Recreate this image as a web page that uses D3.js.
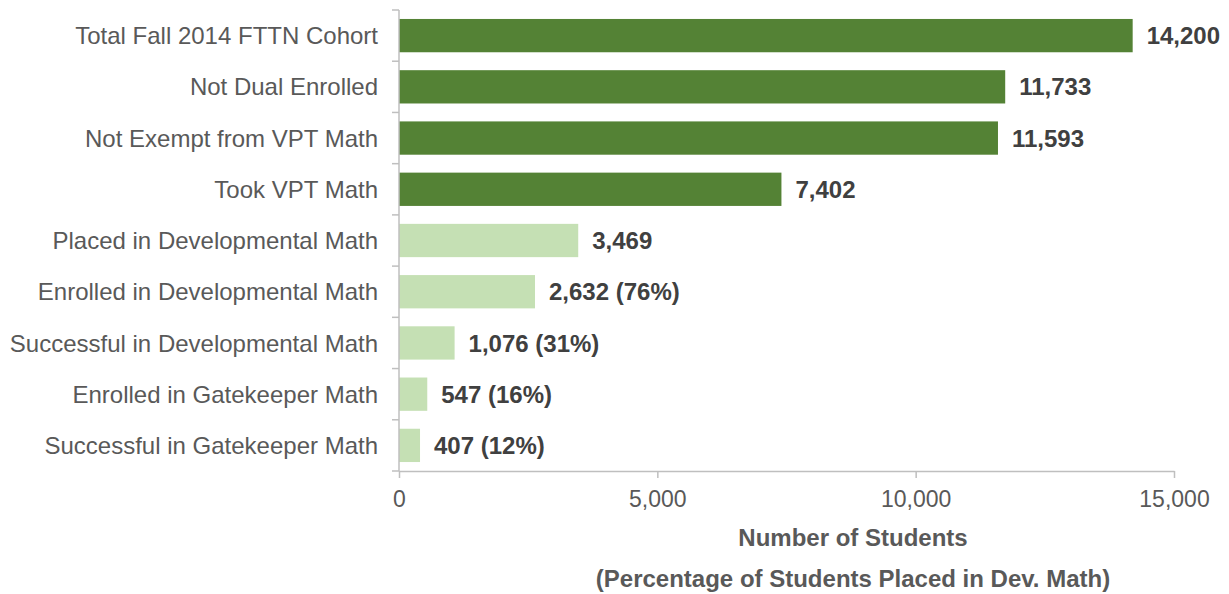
<!DOCTYPE html>
<html>
<head>
<meta charset="utf-8">
<script src="https://cdn.jsdelivr.net/npm/d3@7"></script>
<style>
  body { margin: 0; background: #fff; }
  svg text { font-family: "Liberation Sans", Arial, sans-serif; }
</style>
</head>
<body>
<div id="chart"></div>
<script>
var categories = ["Total Fall 2014 FTTN Cohort", "Not Dual Enrolled", "Not Exempt from VPT Math",
    "Took VPT Math", "Placed in Developmental Math", "Enrolled in Developmental Math",
    "Successful in Developmental Math", "Enrolled in Gatekeeper Math", "Successful in Gatekeeper Math"];
var values = [14200, 11733, 11593, 7402, 3469, 2632, 1076, 547, 407];
var percents = [null, null, null, null, null, "76%", "31%", "16%", "12%"];
var groups = ["all", "all", "all", "all", "dev", "dev", "dev", "dev", "dev"];
var xTicks = [0, 5000, 10000, 15000];

var width = 1229, height = 594;
var margin = {left: 399, right: 55, top: 10, bottom: 123};

var svg = d3.select("#chart").append("svg")
    .attr("width", width)
    .attr("height", height);

var x = d3.scaleLinear()
    .domain([0, 15000])
    .range([margin.left, width - margin.right]);

var y = d3.scaleBand()
    .domain(categories)
    .range([margin.top, height - margin.bottom])
    .paddingInner(0.35)
    .paddingOuter(0.175);

var colors = {all: "#548235", dev: "#c5e0b4"};
var fmt = d3.format(",");

// bars
svg.selectAll("rect.bar")
    .data(categories)
    .enter()
    .append("rect")
    .attr("class", "bar")
    .attr("x", x(0))
    .attr("y", function(d) { return y(d); })
    .attr("width", function(d, i) { return x(values[i]) - x(0); })
    .attr("height", y.bandwidth())
    .attr("fill", function(d, i) { return colors[groups[i]]; });

// value labels
svg.selectAll("text.value")
    .data(categories)
    .enter()
    .append("text")
    .attr("class", "value")
    .attr("x", function(d, i) { return x(values[i]) + 14; })
    .attr("y", function(d) { return y(d) + y.bandwidth() / 2; })
    .attr("dy", "0.36em")
    .style("font-size", "24px")
    .style("font-weight", "bold")
    .style("fill", "#404040")
    .text(function(d, i) {
        return fmt(values[i]) + (percents[i] ? " (" + percents[i] + ")" : "");
    });

// y axis: line plus ticks at band boundaries
var axisColor = "#bfbfbf";
var yTop = margin.top, yBottom = height - margin.bottom;
svg.append("line")
    .attr("x1", x(0)).attr("x2", x(0))
    .attr("y1", yTop).attr("y2", yBottom)
    .attr("stroke", axisColor).attr("stroke-width", 1.5);

var boundaries = d3.range(categories.length + 1).map(function(i) { return yTop + i * (yBottom - yTop) / categories.length; });
svg.selectAll("line.ytick")
    .data(boundaries)
    .enter()
    .append("line")
    .attr("class", "ytick")
    .attr("x1", x(0) - 7).attr("x2", x(0))
    .attr("y1", function(d) { return d; }).attr("y2", function(d) { return d; })
    .attr("stroke", axisColor).attr("stroke-width", 1.5);

svg.selectAll("text.cat")
    .data(categories)
    .enter()
    .append("text")
    .attr("class", "cat")
    .attr("x", x(0) - 21)
    .attr("y", function(d) { return y(d) + y.bandwidth() / 2; })
    .attr("dy", "0.36em")
    .attr("text-anchor", "end")
    .style("font-size", "24px")
    .style("fill", "#595959")
    .text(function(d) { return d; });

// x axis
var xAxis = svg.append("g")
    .attr("transform", "translate(0," + yBottom + ")")
    .call(d3.axisBottom(x).tickValues(xTicks).tickFormat(fmt).tickSize(7).tickSizeOuter(0));
xAxis.select(".domain").attr("stroke", axisColor).attr("stroke-width", 1.5);
xAxis.selectAll(".tick line").attr("stroke", axisColor).attr("stroke-width", 1.5);
xAxis.selectAll(".tick text")
    .attr("y", 36)
    .attr("dy", 0)
    .style("font-size", "23px")
    .style("font-family", "Liberation Sans, Arial, sans-serif")
    .style("fill", "#595959");

// axis title
var titleX = 853;
svg.append("text")
    .attr("x", titleX)
    .attr("y", 546)
    .attr("text-anchor", "middle")
    .style("font-size", "24px")
    .style("font-weight", "bold")
    .style("fill", "#595959")
    .text("Number of Students");
svg.append("text")
    .attr("x", titleX)
    .attr("y", 587)
    .attr("text-anchor", "middle")
    .style("font-size", "24px")
    .style("font-weight", "bold")
    .style("fill", "#595959")
    .text("(Percentage of Students Placed in Dev. Math)");
</script>
</body>
</html>
